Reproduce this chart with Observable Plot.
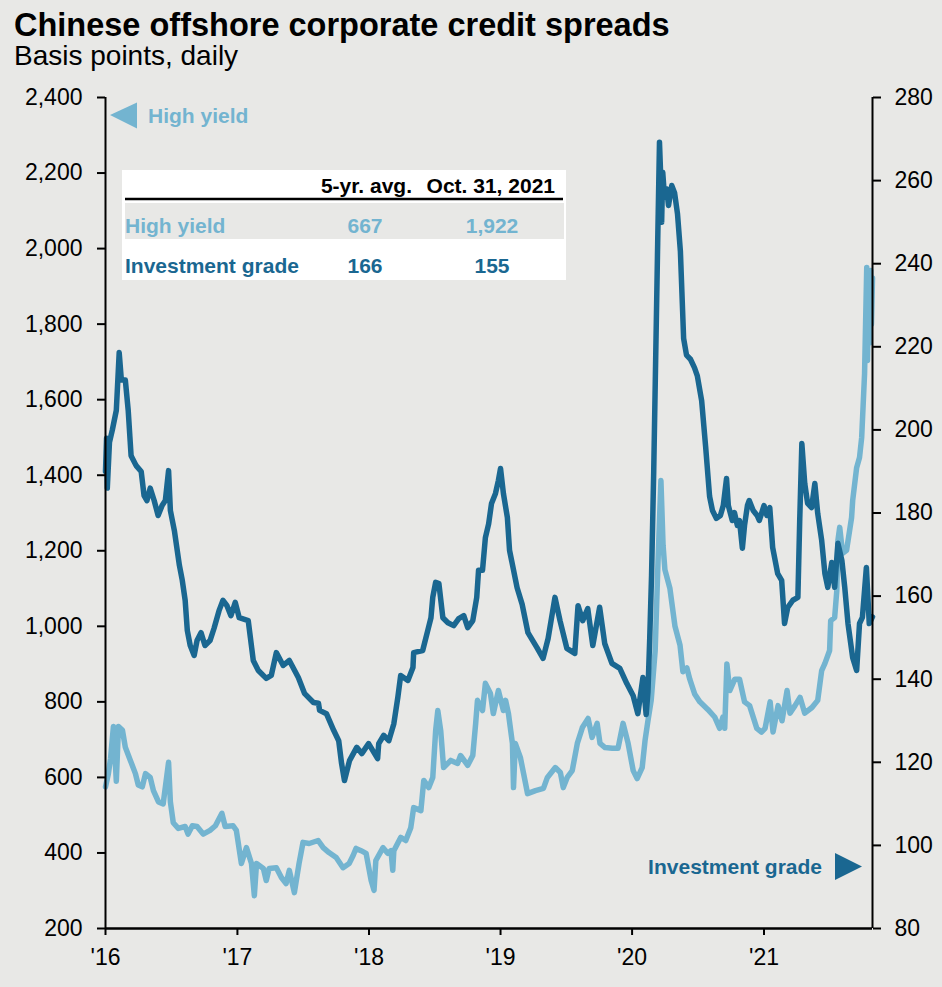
<!DOCTYPE html>
<html><head><meta charset="utf-8">
<script src="https://cdn.jsdelivr.net/npm/d3@7"></script>
<script src="https://cdn.jsdelivr.net/npm/@observablehq/plot@0.6"></script>
<style>
html,body{margin:0;padding:0;background:#e8e8e6;}
body{width:942px;height:987px;overflow:hidden;position:relative;font-family:Arial,"Liberation Sans",sans-serif;}
#head{position:relative;height:80px;}
#title{position:absolute;left:14px;top:9px;font-size:32.5px;line-height:32.5px;font-weight:bold;color:#000;white-space:nowrap;}
#subtitle{position:absolute;left:14px;top:42px;font-size:28px;line-height:28px;color:#000;white-space:nowrap;}
#chart svg{display:block;}
#overlay{position:absolute;left:0;top:0;pointer-events:none;}
</style></head><body>
<div id="head"><div id="title">Chinese offshore corporate credit spreads</div><div id="subtitle">Basis points, daily</div></div>
<div id="chart"></div>
<script>
// ---- data ----
const hyDates = ["2016-01-01","2016-01-09","2016-01-15","2016-01-23","2016-01-31","2016-02-06","2016-02-17","2016-02-25","2016-03-10","2016-03-24","2016-04-01","2016-04-12","2016-04-21","2016-05-04","2016-05-13","2016-05-27","2016-06-09","2016-06-24","2016-06-29","2016-07-07","2016-07-21","2016-08-09","2016-08-17","2016-08-29","2016-09-11","2016-09-28","2016-10-17","2016-11-01","2016-11-19","2016-11-28","2016-12-20","2016-12-29",
"2017-01-12","2017-01-26","2017-02-09","2017-02-17","2017-02-23","2017-03-14","2017-03-22","2017-03-30","2017-04-19","2017-05-03","2017-05-16","2017-05-25","2017-06-08","2017-06-21","2017-07-02","2017-07-19","2017-08-13","2017-08-27","2017-09-12","2017-10-02","2017-10-21","2017-11-07","2017-11-18","2017-11-26","2017-12-10","2017-12-24",
"2018-01-07","2018-01-15","2018-01-20","2018-02-09","2018-02-22","2018-03-03","2018-03-08","2018-03-11","2018-03-30","2018-04-13","2018-04-27","2018-05-05","2018-05-25","2018-06-02","2018-06-16","2018-06-27","2018-07-05","2018-07-11","2018-07-19","2018-07-27","2018-08-16","2018-09-04","2018-09-12","2018-10-02","2018-10-16","2018-10-24","2018-10-29","2018-11-12","2018-11-20","2018-12-04","2018-12-12","2018-12-26",
"2019-01-09","2019-01-15","2019-01-23","2019-02-03","2019-02-06","2019-02-11","2019-02-25","2019-03-06","2019-03-17","2019-04-08","2019-04-30","2019-05-11","2019-06-02","2019-06-16","2019-06-24","2019-07-05","2019-07-19","2019-08-02","2019-08-16","2019-09-01","2019-09-12","2019-09-26","2019-10-04","2019-10-18","2019-11-07","2019-11-23","2019-12-07","2019-12-21",
"2020-01-04","2020-01-15","2020-01-29","2020-02-06","2020-02-14","2020-02-23","2020-03-05","2020-03-13","2020-03-21","2020-03-27","2020-04-01","2020-04-15","2020-04-29","2020-05-13","2020-05-21","2020-06-01","2020-06-09","2020-06-23","2020-07-07","2020-07-29","2020-08-17","2020-08-31","2020-09-09","2020-09-14","2020-09-20","2020-09-28","2020-10-12","2020-10-25","2020-11-08","2020-11-22","2020-12-12","2020-12-25",
"2021-01-04","2021-01-18","2021-01-26","2021-02-09","2021-02-20","2021-03-06","2021-03-14","2021-03-28","2021-04-11","2021-04-24","2021-05-14","2021-05-30","2021-06-10","2021-06-19","2021-07-02","2021-07-05","2021-07-16","2021-07-22","2021-07-25","2021-07-30","2021-08-07","2021-08-18","2021-09-01","2021-09-04","2021-09-15","2021-09-23","2021-09-29","2021-10-07","2021-10-13","2021-10-15","2021-10-18","2021-10-21","2021-10-24","2021-10-26","2021-10-29"];
const hyValues = [575,610,650,735,590,735,725,680,645,610,580,575,610,600,565,535,530,640,535,480,465,470,450,472,470,450,460,472,505,470,472,460,
372,414,372,287,372,359,327,359,361,335,319,354,295,372,428,425,433,414,401,388,361,372,393,412,406,399,
327,301,380,414,399,406,354,406,441,433,467,520,512,592,573,600,724,777,724,626,645,637,658,632,658,743,804,777,849,822,769,830,
777,804,769,690,573,690,653,610,557,565,571,600,626,613,573,600,618,690,732,756,706,743,690,679,677,677,743,690,
618,597,626,698,750,804,935,1174,1386,1214,1150,1100,1000,950,880,890,860,820,800,780,760,730,760,730,900,830,860,860,800,790,730,720,
730,800,720,790,750,830,770,790,812,770,785,804,883,902,936,1015,1023,1095,1227,1262,1193,1201,1288,1333,1420,1447,1500,1669,1950,1704,1900,1750,1942,1800,1922];

const igDates = ["2016-01-01","2016-01-04","2016-01-06","2016-01-12","2016-01-20","2016-01-31","2016-02-08","2016-02-14","2016-02-25","2016-03-04","2016-03-12","2016-03-26","2016-04-09","2016-04-17","2016-04-25","2016-05-04","2016-05-15","2016-05-26","2016-06-06","2016-06-15","2016-06-24","2016-06-29","2016-07-10","2016-07-24","2016-08-01","2016-08-09","2016-08-15","2016-08-23","2016-09-03","2016-09-11","2016-09-22","2016-10-03","2016-10-17","2016-10-28","2016-11-11","2016-11-22","2016-12-03","2016-12-14","2016-12-26",
"2017-01-06","2017-01-31","2017-02-14","2017-02-28","2017-03-22","2017-04-05","2017-04-19","2017-05-08","2017-05-25","2017-06-19","2017-07-06","2017-07-31","2017-08-14","2017-08-17","2017-09-05","2017-09-25","2017-10-09","2017-10-17","2017-10-25","2017-11-08","2017-11-28","2017-12-12","2017-12-31",
"2018-01-25","2018-01-28","2018-02-11","2018-02-25","2018-03-11","2018-03-22","2018-03-30","2018-04-19","2018-05-03","2018-05-05","2018-05-30","2018-06-13","2018-06-22","2018-06-27","2018-07-05","2018-07-14","2018-07-25","2018-08-08","2018-08-24","2018-09-07","2018-09-21","2018-10-02","2018-10-16","2018-10-27","2018-11-01","2018-11-12","2018-11-20","2018-11-29","2018-12-07","2018-12-18","2018-12-26",
"2019-01-01","2019-01-09","2019-01-20","2019-01-26","2019-02-16","2019-03-02","2019-03-18","2019-04-12","2019-04-29","2019-05-13","2019-06-01","2019-06-15","2019-07-04","2019-07-26","2019-08-04","2019-08-17","2019-08-31","2019-09-14","2019-10-03","2019-10-17","2019-11-06","2019-11-28","2019-12-17",
"2020-01-04","2020-01-17","2020-01-31","2020-02-09","2020-02-14","2020-02-19","2020-02-24","2020-03-01","2020-03-06","2020-03-12","2020-03-17","2020-03-20","2020-03-23","2020-03-26","2020-03-31","2020-04-06","2020-04-11","2020-04-20","2020-04-28","2020-05-06","2020-05-14","2020-05-23","2020-05-31","2020-06-11","2020-06-22","2020-06-30","2020-07-12","2020-07-23","2020-08-03","2020-08-11","2020-08-22","2020-09-02","2020-09-10","2020-09-19","2020-09-24","2020-10-05","2020-10-11","2020-10-19","2020-10-25","2020-11-02","2020-11-08","2020-11-16","2020-11-21","2020-12-02","2020-12-13","2020-12-19",
"2021-01-01","2021-01-09","2021-01-17","2021-01-25","2021-02-08","2021-02-19","2021-02-27","2021-03-08","2021-03-22","2021-04-05","2021-04-10","2021-04-16","2021-04-24","2021-05-02","2021-05-13","2021-05-22","2021-05-30","2021-06-10","2021-06-19","2021-06-27","2021-07-08","2021-07-16","2021-07-25","2021-08-05","2021-08-13","2021-08-22","2021-09-04","2021-09-15","2021-09-23","2021-10-01","2021-10-12","2021-10-20","2021-10-29"];
const igValues = [190,198,186,197,200,204.7,218.6,212,212,204.7,193.8,191.4,190,184.2,183,186,183,179.4,181.8,183,190.2,180.6,175.8,167.4,163.8,159,151.7,148.1,145.7,149.3,151.2,148.1,149.3,152.2,156.5,159,157.7,155.3,158.5,
154.8,154.1,144.5,142.1,140.2,140.9,146.4,143.3,144.5,140.4,136.6,134.4,134.2,132.5,131.7,127.7,125.2,119.7,115.6,120.4,123.6,122.1,124.5,
120.9,124.5,126.5,125.2,129.3,135.6,140.9,139.7,142.8,146.4,146.9,151.7,154.8,159.7,163.3,163,154.8,153.6,152.9,154.6,155.3,152.4,154.1,159.7,166.2,166.2,174.1,177.4,182.3,184.7,187.8,
190.7,184.7,178.9,171,162,158,151.2,147.6,145,149.8,159.7,154.1,147.4,146.2,157.7,154.1,157,148.1,157.3,148.6,143.8,142.6,139,
136,131.7,140.4,131.5,137,150,165,190,215,245,269.2,262,250,262,256,258,254,258.8,257,252,243,222,218,217,215,213,207,196,184,180.6,178.7,179.4,181.8,188.3,181.8,178.2,180.1,177,178.2,171.5,177,181.8,183,180.6,179.4,178.2,
181.8,179.4,181.3,171.7,165.4,163.8,153.4,157.3,159,159.7,178,196.7,187.1,182.3,181.3,187.1,179.9,173.4,165.4,162.1,168.1,162.1,172.7,168.6,162.1,153.4,145.2,142.1,153.4,154.9,166.9,153.4,155];

const leftTicks = [200,400,600,800,1000,1200,1400,1600,1800,2000,2200,2400];
const rightTicks = [80,100,120,140,160,180,200,220,240,260,280];
const yearTicks = ["2016-01-01","2017-01-01","2018-01-01","2019-01-01","2020-01-01","2021-01-01"];
const dateDomain = ["2016-01-01","2021-10-29"];

const tableHeaders = ["5-yr. avg.","Oct. 31, 2021"];
const tableSeries = ["High yield","Investment grade"];
const tableAvg = ["667","166"];
const tableLatest = ["1,922","155"];
const seriesLabels = ["High yield","Investment grade"];

// ---- styles ----
const HY = "#73b4d0", IG = "#1a6791", BG = "#e8e8e6";
const font = "Arial, 'Liberation Sans', sans-serif";

const parse = d3.utcParse("%Y-%m-%d");
const hy = hyDates.map((d,i)=>({date: parse(d), value: hyValues[i]}));
const ig = igDates.map((d,i)=>({date: parse(d), value: igValues[i]}));
const L0 = leftTicks[0], L1 = leftTicks[leftTicks.length-1];
const R0 = rightTicks[0], R1 = rightTicks[rightTicks.length-1];
const toLeft = v => L0 + (v - R0) * (L1 - L0) / (R1 - R0);
const toRight = v => R0 + (v - L0) * (R1 - R0) / (L1 - L0);
const x0 = parse(dateDomain[0]), x1 = parse(dateDomain[1]);

const chart = Plot.plot({
  width: 942, height: 907,
  marginTop: 17, marginBottom: 59, marginLeft: 105, marginRight: 70,
  style: {background: "transparent", fontFamily: font, fontSize: "23px", color: "#000", overflow: "visible"},
  x: {type: "utc", domain: [x0, x1]},
  y: {domain: [L0, L1]},
  marks: [
    Plot.lineY(hy, {x: "date", y: "value", stroke: HY, strokeWidth: 5.5, strokeLinejoin: "round", strokeLinecap: "round"}),
    Plot.lineY(ig, {x: "date", y: d => toLeft(d.value), stroke: IG, strokeWidth: 5.5, strokeLinejoin: "round", strokeLinecap: "round"}),
    Plot.ruleX([x0], {stroke: "#000", strokeWidth: 2}),
    Plot.ruleX([x1], {stroke: "#000", strokeWidth: 2}),
    Plot.ruleY([L0], {stroke: "#000", strokeWidth: 2.5}),
    Plot.axisY({anchor: "left", ticks: leftTicks, tickFormat: d3.format(","), tickSize: 8, tickPadding: 15, strokeWidth: 2, label: null}),
    Plot.axisY({anchor: "right", ticks: rightTicks.map(toLeft), tickFormat: v => String(Math.round(toRight(v))), tickSize: 8, tickPadding: 14, strokeWidth: 2, label: null}),
    Plot.axisX({ticks: yearTicks.map(parse), tickFormat: d => "'" + d3.utcFormat("%y")(d), tickSize: 7, tickPadding: 13, strokeWidth: 2, label: null})
  ]
});
document.getElementById("chart").appendChild(chart);

// ---- overlay: legend arrows and table ----
const ov = d3.select("body").append("svg").attr("id","overlay").attr("width",942).attr("height",987)
  .style("font-family", font);
ov.append("polygon").attr("points","110,115 137,102.5 137,128.5").attr("fill",HY);
ov.append("text").attr("x",148).attr("y",123).attr("font-size",21).attr("font-weight","bold").attr("fill",HY).text(seriesLabels[0]);
ov.append("text").attr("x",822).attr("y",874).attr("text-anchor","end").attr("font-size",21).attr("font-weight","bold").attr("fill",IG).text(seriesLabels[1]);
ov.append("polygon").attr("points","835,853 835,880 862,866.5").attr("fill",IG);

const tb = ov.append("g");
tb.append("rect").attr("x",122).attr("y",170).attr("width",444).attr("height",110).attr("fill","#fff");
tb.append("rect").attr("x",125).attr("y",203).attr("width",439).attr("height",36).attr("fill",BG);
tb.append("line").attr("x1",125).attr("x2",563).attr("y1",199).attr("y2",199).attr("stroke","#000").attr("stroke-width",2.5);
const hdrX = [412, 555];
tableHeaders.forEach((h,i)=>tb.append("text").attr("x",hdrX[i]).attr("y",193).attr("text-anchor","end")
  .attr("font-size",21).attr("font-weight","bold").attr("fill","#000").text(h));
const rowY = [233, 273], rowC = [HY, IG];
tableSeries.forEach((s,i)=>{
  tb.append("text").attr("x",125).attr("y",rowY[i]).attr("font-size",21).attr("font-weight","bold").attr("fill",rowC[i]).text(s);
  tb.append("text").attr("x",365).attr("y",rowY[i]).attr("text-anchor","middle").attr("font-size",21).attr("font-weight","bold").attr("fill",rowC[i]).text(tableAvg[i]);
  tb.append("text").attr("x",492).attr("y",rowY[i]).attr("text-anchor","middle").attr("font-size",21).attr("font-weight","bold").attr("fill",rowC[i]).text(tableLatest[i]);
});
</script></body></html>
